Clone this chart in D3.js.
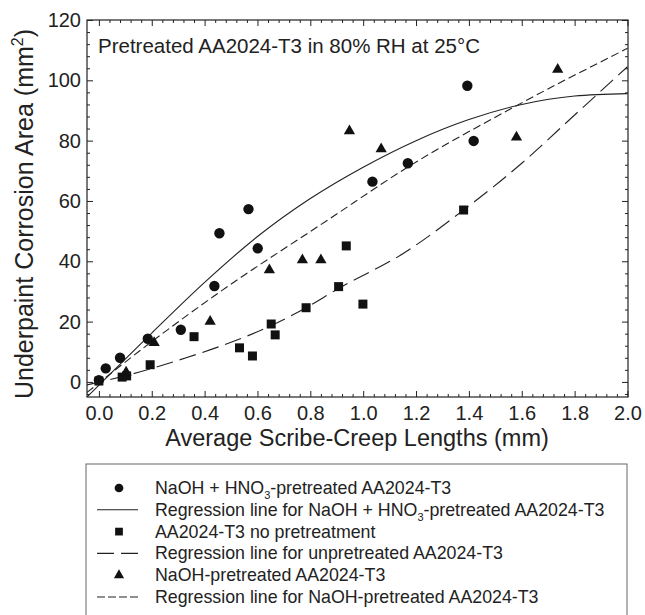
<!DOCTYPE html>
<html>
<head>
<meta charset="utf-8">
<script src="https://cdn.jsdelivr.net/npm/d3@7"></script>
<style>
  body { margin: 0; background: #fff; }
  svg { display: block; font-family: "Liberation Sans", Arial, Helvetica, sans-serif; }
</style>
</head>
<body>
<svg id="chart" width="645" height="615"></svg>
<script>
// measured data (x = average scribe-creep length mm, y = underpaint corrosion area mm2)
var hno3Points = [[0.00, 0.6], [0.026, 4.5], [0.08, 8.0], [0.185, 14.3], [0.31, 17.3], [0.437, 31.8],
  [0.456, 49.3], [0.566, 57.3], [0.601, 44.3], [1.035, 66.4], [1.169, 72.5], [1.394, 98.2], [1.418, 79.9]];
var barePoints = [[0.00, 0.3], [0.088, 1.6], [0.105, 2.0], [0.194, 5.7], [0.36, 15.0], [0.532, 11.3],
  [0.581, 8.6], [0.652, 19.2], [0.667, 15.6], [0.784, 24.6], [0.907, 31.6], [0.936, 45.1], [0.999, 25.8], [1.38, 57.0]];
var naohPoints = [[0.103, 3.2], [0.209, 13.0], [0.421, 20.0], [0.645, 37.1], [0.77, 40.4], [0.84, 40.4],
  [0.948, 83.2], [1.068, 77.2], [1.58, 81.1], [1.736, 103.6]];

// regression lines
var hno3Fit = [[-0.045, -5.0], [0.2, 16.2], [0.4, 33.0], [0.6, 48.2], [0.8, 60.8], [1.0, 71.2],
  [1.2, 80.0], [1.4, 87.0], [1.6, 92.0], [1.8, 94.8], [2.0, 95.6]];
var bareFit = [[-0.045, -1.0], [0.15, 3.2], [0.33, 8.0], [0.48, 12.5], [0.648, 18.5], [0.784, 24.6], [0.907, 31.0],
  [1.15, 42.5], [1.38, 57.0], [1.6, 72.5], [1.8, 88.5], [2.0, 104.5]];
var naohFit = [[-0.045, -3.5], [0.187, 12.5], [0.433, 28.3], [0.875, 54.2], [1.172, 71.4], [1.538, 89.6], [2.0, 110.6]];

var xTicks = [0, 0.2, 0.4, 0.6, 0.8, 1.0, 1.2, 1.4, 1.6, 1.8, 2.0];
var yTicks = [0, 20, 40, 60, 80, 100, 120];

var plot = { left: 87, right: 628, top: 20, bottom: 397 };

var svg = d3.select("#chart");
var x = d3.scaleLinear().domain([-0.045, 2.002]).range([plot.left, plot.right]);
var y = d3.scaleLinear().domain([-5, 120]).range([plot.bottom, plot.top]);

var xMinor = d3.range(0, 51).map(function (i) { return i * 0.04; })
  .filter(function (v) { return Math.abs(v / 0.2 - Math.round(v / 0.2)) > 0.01; });
var yMinor = d3.range(-1, 30).map(function (i) { return i * 4; })
  .filter(function (v) { return v % 20 !== 0; });

function styleAxis(g) {
  g.select(".domain").remove();
  g.selectAll("line").attr("stroke", "#222").attr("stroke-width", 1);
  g.selectAll("text").attr("fill", "#222").style("font-size", "20px")
    .style("font-family", "'Liberation Sans', Arial, sans-serif");
}

// bottom
svg.append("g").attr("transform", "translate(0," + plot.bottom + ")")
  .call(d3.axisBottom(x).tickValues(xTicks).tickSize(-6).tickPadding(9).tickFormat(d3.format(".1f")))
  .call(styleAxis);
svg.append("g").attr("transform", "translate(0," + plot.bottom + ")")
  .call(d3.axisBottom(x).tickValues(xMinor).tickSize(-3).tickFormat(""))
  .call(styleAxis);
// top
svg.append("g").attr("transform", "translate(0," + plot.top + ")")
  .call(d3.axisTop(x).tickValues(xTicks).tickSize(-6).tickFormat(""))
  .call(styleAxis);
svg.append("g").attr("transform", "translate(0," + plot.top + ")")
  .call(d3.axisTop(x).tickValues(xMinor).tickSize(-3).tickFormat(""))
  .call(styleAxis);
// left
svg.append("g").attr("transform", "translate(" + plot.left + ",0)")
  .call(d3.axisLeft(y).tickValues(yTicks).tickSize(-6).tickPadding(6))
  .call(styleAxis);
svg.append("g").attr("transform", "translate(" + plot.left + ",0)")
  .call(d3.axisLeft(y).tickValues(yMinor).tickSize(-3).tickFormat(""))
  .call(styleAxis);
// right
svg.append("g").attr("transform", "translate(" + plot.right + ",0)")
  .call(d3.axisRight(y).tickValues(yTicks).tickSize(-6).tickFormat(""))
  .call(styleAxis);
svg.append("g").attr("transform", "translate(" + plot.right + ",0)")
  .call(d3.axisRight(y).tickValues(yMinor).tickSize(-3).tickFormat(""))
  .call(styleAxis);

svg.append("rect")
  .attr("x", plot.left).attr("y", plot.top)
  .attr("width", plot.right - plot.left).attr("height", plot.bottom - plot.top)
  .attr("fill", "none").attr("stroke", "#222").attr("stroke-width", 1.2);

svg.append("clipPath").attr("id", "plotclip").append("rect")
  .attr("x", plot.left).attr("y", plot.top)
  .attr("width", plot.right - plot.left).attr("height", plot.bottom - plot.top);

// axis titles
svg.append("text")
  .attr("x", 357).attr("y", 446).attr("text-anchor", "middle")
  .style("font-size", "23.5px").attr("fill", "#222")
  .text("Average Scribe-Creep Lengths (mm)");

var yt = svg.append("text")
  .attr("transform", "translate(33,214) rotate(-90)").attr("text-anchor", "middle")
  .style("font-size", "25px").attr("fill", "#222");
yt.append("tspan").text("Underpaint Corrosion Area (mm");
yt.append("tspan").attr("dy", -10).style("font-size", "16px").text("2");
yt.append("tspan").attr("dy", 10).text(")");

svg.append("text")
  .attr("x", 98).attr("y", 53)
  .style("font-size", "20.5px").attr("fill", "#222")
  .text("Pretreated AA2024-T3 in 80% RH at 25\u00B0C");

// regression lines
var line = d3.line()
  .x(function (d) { return x(d[0]); })
  .y(function (d) { return y(d[1]); })
  .curve(d3.curveMonotoneX);

var fits = svg.append("g").attr("clip-path", "url(#plotclip)");
fits.append("path").datum(hno3Fit).attr("d", line)
  .attr("fill", "none").attr("stroke", "#222").attr("stroke-width", 1.1);
fits.append("path").datum(bareFit).attr("d", line)
  .attr("fill", "none").attr("stroke", "#222").attr("stroke-width", 1.1).attr("stroke-dasharray", "17,7");
fits.append("path").datum(naohFit).attr("d", line)
  .attr("fill", "none").attr("stroke", "#222").attr("stroke-width", 1.1).attr("stroke-dasharray", "8,4");

// points
function drawPoints(data, type, size) {
  svg.append("g").selectAll("path").data(data).enter().append("path")
    .attr("transform", function (d) { return "translate(" + x(d[0]) + "," + y(d[1]) + ")"; })
    .attr("d", d3.symbol().type(type).size(size))
    .attr("fill", "#111");
}
drawPoints(barePoints, d3.symbolSquare, 81);
drawPoints(naohPoints, d3.symbolTriangle, 55);
drawPoints(hno3Points, d3.symbolCircle, 85);

// legend
var lg = svg.append("g");
lg.append("rect").attr("x", 86).attr("y", 464).attr("width", 541).attr("height", 160)
  .attr("fill", "#fff").attr("stroke", "#666").attr("stroke-width", 1);

var legendRows = [
  { kind: "symbol", type: d3.symbolCircle, size: 60, label: ["NaOH + HNO", "3", "-pretreated AA2024-T3"] },
  { kind: "line", dash: null, label: ["Regression line for NaOH + HNO", "3", "-pretreated AA2024-T3"] },
  { kind: "symbol", type: d3.symbolSquare, size: 60, label: ["AA2024-T3 no pretreatment"] },
  { kind: "line", dash: "17,7", label: ["Regression line for unpretreated AA2024-T3"] },
  { kind: "symbol", type: d3.symbolTriangle, size: 45, label: ["NaOH-pretreated AA2024-T3"] },
  { kind: "line", dash: "8,3", label: ["Regression line for NaOH-pretreated AA2024-T3"] }
];

legendRows.forEach(function (r, i) {
  var cy = 488 + i * 21.8;
  if (r.kind === "symbol") {
    lg.append("path").attr("transform", "translate(119," + cy + ")")
      .attr("d", d3.symbol().type(r.type).size(r.size)).attr("fill", "#111");
  } else {
    lg.append("line").attr("x1", 97).attr("x2", 138).attr("y1", cy).attr("y2", cy)
      .attr("stroke", "#222").attr("stroke-width", 1.1)
      .attr("stroke-dasharray", r.dash);
  }
  var t = lg.append("text").attr("x", 155).attr("y", cy + 6)
    .style("font-size", "17.8px").attr("fill", "#222");
  t.append("tspan").text(r.label[0]);
  if (r.label.length > 1) {
    t.append("tspan").attr("dy", 5).style("font-size", "11px").text(r.label[1]);
    t.append("tspan").attr("dy", -5).text(r.label[2]);
  }
});
</script>
</body>
</html>
